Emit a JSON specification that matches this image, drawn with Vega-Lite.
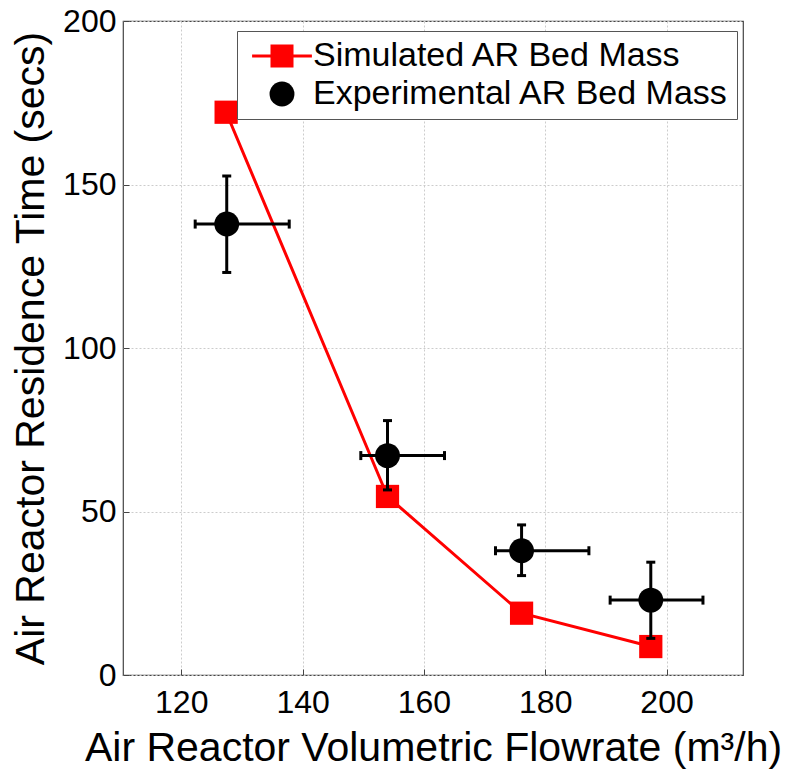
{
  "$schema": "https://vega.github.io/schema/vega-lite/v6.json",
  "width": 620,
  "height": 654,
  "autosize": {"type": "none"},
  "padding": {"left": 123, "top": 21, "right": 49, "bottom": 99},
  "background": "white",
  "config": {
    "font": "Liberation Sans",
    "view": {"stroke": "#444444", "strokeWidth": 1.2},
    "axis": {
      "grid": true,
      "gridColor": "#cccccc",
      "gridDash": [2, 2],
      "gridWidth": 1,
      "domain": false,
      "ticks": true,
      "tickSize": -6,
      "tickColor": "#444444",
      "tickWidth": 1,
      "labelFont": "Liberation Sans",
      "titleFont": "Liberation Sans",
      "labelFontSize": 32,
      "titleFontSize": 41,
      "labelColor": "#000000",
      "titleColor": "#000000",
      "titleFontWeight": "normal"
    }
  },
  "datasets": {
    "sim": [
      {"flow": 127.4, "time": 172.1, "series": "Simulated AR Bed Mass"},
      {"flow": 154.0, "time": 54.6, "series": "Simulated AR Bed Mass"},
      {"flow": 176.1, "time": 18.9, "series": "Simulated AR Bed Mass"},
      {"flow": 197.4, "time": 8.7, "series": "Simulated AR Bed Mass"}
    ],
    "exp": [
      {"flow": 127.5, "time": 137.9, "xlo": 122.3, "xhi": 137.8, "ylo": 123.1, "yhi": 152.6, "series": "Experimental AR Bed Mass"},
      {"flow": 154.0, "time": 67.1, "xlo": 149.6, "xhi": 163.4, "ylo": 56.6, "yhi": 77.8, "series": "Experimental AR Bed Mass"},
      {"flow": 176.1, "time": 38.0, "xlo": 171.8, "xhi": 187.2, "ylo": 30.4, "yhi": 45.9, "series": "Experimental AR Bed Mass"},
      {"flow": 197.4, "time": 22.9, "xlo": 190.7, "xhi": 206.0, "ylo": 11.2, "yhi": 34.5, "series": "Experimental AR Bed Mass"}
    ]
  },
  "encoding": {
    "x": {
      "field": "flow",
      "type": "quantitative",
      "scale": {"domain": [110.4, 212.6], "nice": false, "zero": false},
      "axis": {"values": [120, 140, 160, 180, 200], "title": "Air Reactor Volumetric Flowrate (m³/h)", "labelPadding": 18, "titlePadding": 10}
    },
    "y": {
      "field": "time",
      "type": "quantitative",
      "scale": {"domain": [0, 200], "nice": false},
      "axis": {"values": [0, 50, 100, 150, 200], "title": "Air Reactor Residence Time (secs)", "labelPadding": 13, "titlePadding": 10}
    }
  },
  "layer": [
    {
      "data": {"name": "sim"},
      "mark": {"type": "line", "color": "#ff0000", "strokeWidth": 3}
    },
    {
      "data": {"name": "sim"},
      "mark": {"type": "point", "shape": "square", "filled": true, "opacity": 1, "size": 540},
      "encoding": {
        "color": {
          "field": "series",
          "type": "nominal",
          "scale": {"domain": ["Simulated AR Bed Mass", "Experimental AR Bed Mass"], "range": ["#ff0000", "#000000"]},
          "legend": {
            "title": null,
            "orient": "none",
            "legendX": 114,
            "legendY": 10,
            "strokeColor": "#555555",
            "fillColor": "#ffffff",
            "padding": 8,
            "rowPadding": 4,
            "labelFontSize": 34,
            "labelFont": "Liberation Sans",
            "labelColor": "#000000",
            "labelLimit": 0,
            "symbolSize": 529,
            "symbolOffset": 20,
            "labelOffset": 14,
            "symbolStrokeWidth": 0
          }
        }
      }
    },
    {
      "data": {"name": "exp"},
      "mark": {"type": "rule", "color": "#000000", "strokeWidth": 3},
      "encoding": {"x": {"field": "xlo", "type": "quantitative"}, "x2": {"field": "xhi"}}
    },
    {
      "data": {"name": "exp"},
      "mark": {"type": "rule", "color": "#000000", "strokeWidth": 3},
      "encoding": {"y": {"field": "ylo", "type": "quantitative"}, "y2": {"field": "yhi"}}
    },
    {
      "data": {"name": "exp"},
      "mark": {"type": "tick", "orient": "vertical", "color": "#000000", "size": 9, "thickness": 3, "opacity": 1},
      "encoding": {"x": {"field": "xlo", "type": "quantitative"}}
    },
    {
      "data": {"name": "exp"},
      "mark": {"type": "tick", "orient": "vertical", "color": "#000000", "size": 9, "thickness": 3, "opacity": 1},
      "encoding": {"x": {"field": "xhi", "type": "quantitative"}}
    },
    {
      "data": {"name": "exp"},
      "mark": {"type": "tick", "orient": "horizontal", "color": "#000000", "size": 9, "thickness": 3, "opacity": 1},
      "encoding": {"y": {"field": "ylo", "type": "quantitative"}}
    },
    {
      "data": {"name": "exp"},
      "mark": {"type": "tick", "orient": "horizontal", "color": "#000000", "size": 9, "thickness": 3, "opacity": 1},
      "encoding": {"y": {"field": "yhi", "type": "quantitative"}}
    },
    {
      "data": {"name": "exp"},
      "mark": {"type": "point", "filled": true, "opacity": 1},
      "encoding": {
        "color": {"field": "series", "type": "nominal"},
        "shape": {
          "field": "series",
          "type": "nominal",
          "scale": {"domain": ["Simulated AR Bed Mass", "Experimental AR Bed Mass"], "range": ["M-2.6,-0.13H2.6V0.13H-2.6Z M-1,-1H1V1H-1Z", "circle"]}
        },
        "size": {
          "field": "series",
          "type": "nominal",
          "scale": {"domain": ["Simulated AR Bed Mass", "Experimental AR Bed Mass"], "range": [529, 620]}
        }
      }
    }
  ]
}
